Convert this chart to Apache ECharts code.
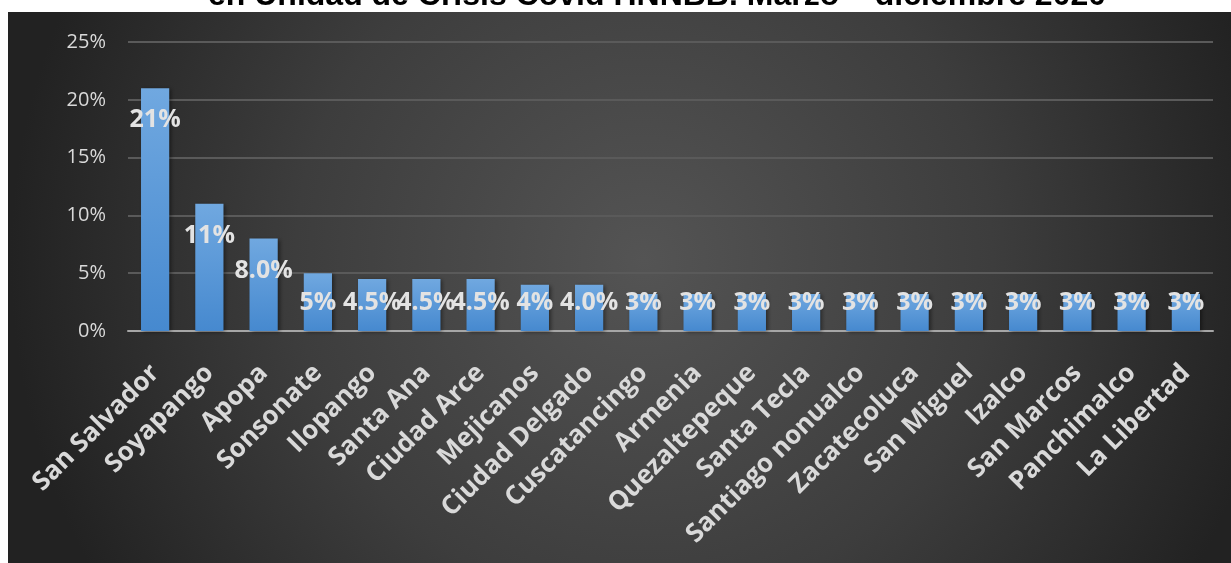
<!DOCTYPE html>
<html>
<head>
<meta charset="utf-8">
<script src="https://cdn.jsdelivr.net/npm/echarts@6/dist/echarts.min.js"></script>
<style>
  html, body { margin: 0; padding: 0; background: #fff; }
  #chart { width: 1231px; height: 563px; }
</style>
</head>
<body>
<div id="chart"></div>
<script>
var municipios = ['San Salvador', 'Soyapango', 'Apopa', 'Sonsonate', 'Ilopango', 'Santa Ana', 'Ciudad Arce',
  'Mejicanos', 'Ciudad Delgado', 'Cuscatancingo', 'Armenia', 'Quezaltepeque', 'Santa Tecla',
  'Santiago nonualco', 'Zacatecoluca', 'San Miguel', 'Izalco', 'San Marcos', 'Panchimalco', 'La Libertad'];
// porcentaje de pacientes
var porcentajes = [21, 11, 8.0, 5, 4.5, 4.5, 4.5, 4, 4.0, 3.2, 3.2, 3.2, 3.2, 3.2, 3.2, 3.2, 3.2, 3.2, 3.2, 3.2];
// etiquetas tal como aparecen en el grafico
var etiquetas = ['21%', '11%', '8.0%', '5%', '4.5%', '4.5%', '4.5%', '4%', '4.0%', '3%', '3%', '3%', '3%',
  '3%', '3%', '3%', '3%', '3%', '3%', '3%'];
var ticksY = [0, 5, 10, 15, 20, 25];

var chart = echarts.init(document.getElementById('chart'));

var option = {
  animation: false,
  graphic: [
    {
      type: 'text',
      left: 208,
      top: -20,
      z: 1,
      style: {
        text: 'en Unidad de Crisis Covid HNNBB. Marzo – diciembre 2020',
        font: 'bold 32px "Liberation Sans", Arial, sans-serif',
        fill: '#000'
      }
    },
    {
      type: 'rect',
      left: 8,
      top: 12,
      z: -10,
      shape: { width: 1223, height: 551 },
      style: {
        fill: new echarts.graphic.RadialGradient(0.52, 0.45, 1.15, [
          { offset: 0, color: '#545454' },
          { offset: 0.55, color: '#3d3d3d' },
          { offset: 1, color: '#222222' }
        ])
      }
    }
  ],
  grid: { left: 128, right: 18, top: 42, bottom: 232 },
  xAxis: {
    type: 'category',
    data: municipios,
    axisLine: { lineStyle: { color: '#a6a6a6', width: 2 } },
    axisTick: { show: false },
    axisLabel: {
      interval: 0,
      rotate: 45,
      margin: 38,
      color: '#d9d9d9',
      fontFamily: '"Open Sans", sans-serif',
      fontWeight: 'bold',
      fontSize: 26
    }
  },
  yAxis: {
    type: 'value',
    min: ticksY[0],
    max: ticksY[ticksY.length - 1],
    interval: 5,
    axisLine: { show: false },
    axisTick: { show: false },
    splitLine: { lineStyle: { color: '#5a5a5a', width: 2 } },
    axisLabel: {
      margin: 22,
      color: '#d9d9d9',
      fontFamily: '"Open Sans", sans-serif',
      fontSize: 20,
      formatter: '{value}%'
    }
  },
  series: [{
    type: 'bar',
    data: porcentajes,
    barWidth: '52%',
    itemStyle: {
      color: new echarts.graphic.LinearGradient(0, 0, 0, 1, [
        { offset: 0, color: '#70a8e0' },
        { offset: 1, color: '#4689cf' }
      ]),
      shadowColor: 'rgba(0,0,0,0.45)',
      shadowBlur: 4,
      shadowOffsetX: 2,
      shadowOffsetY: 1
    },
    label: {
      show: true,
      position: 'insideTop',
      color: '#e3e3e3',
      fontFamily: '"Open Sans", sans-serif',
      fontWeight: 'bold',
      fontSize: 25,
      formatter: function (p) { return etiquetas[p.dataIndex]; }
    },
    labelLayout: function (params) {
      var r = params.rect;
      var top = Math.min(r.y, r.y + r.height);
      var bottom = Math.max(r.y, r.y + r.height);
      var cy = Math.min(top + 32, bottom - 28);
      return { x: r.x + r.width / 2, y: cy, align: 'center', verticalAlign: 'middle' };
    }
  }]
};

chart.setOption(option);
</script>
</body>
</html>
